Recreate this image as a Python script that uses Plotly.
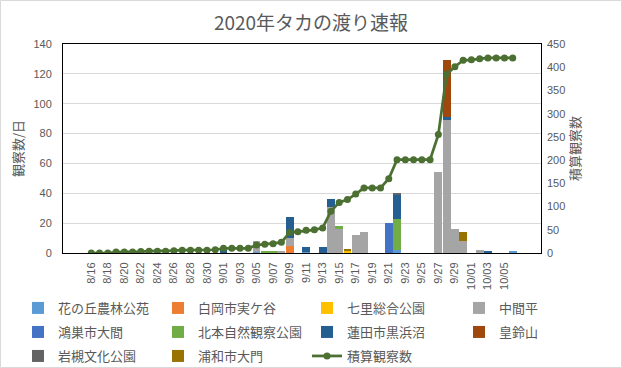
import plotly.graph_objects as go

dates = ["8/16","8/17","8/18","8/19","8/20","8/21","8/22","8/23","8/24","8/25","8/26","8/27","8/28","8/29","8/30","8/31",
         "9/01","9/02","9/03","9/04","9/05","9/06","9/07","9/08","9/09","9/10","9/11","9/12","9/13","9/14","9/15",
         "9/16","9/17","9/18","9/19","9/20","9/21","9/22","9/23","9/24","9/25","9/26","9/27","9/28","9/29","9/30",
         "10/01","10/02","10/03","10/04","10/05","10/06"]

def series(vals):
    out = [0] * len(dates)
    for d, v in vals.items():
        out[dates.index(d)] = v
    return out

hananooka = series({"9/05": 1, "9/11": 1, "9/22": 2, "10/06": 1})
shiraoka = series({"9/09": 5})
shichiri = series({"9/16": 2})
nakamadaira = series({"9/05": 7, "9/08": 1, "9/09": 5, "9/14": 31, "9/15": 16, "9/17": 12, "9/18": 14,
                      "9/27": 54, "9/28": 89, "9/29": 16, "9/30": 8, "10/02": 2})
konosu = series({"9/21": 20})
kitamoto = series({"9/06": 1, "9/07": 1, "9/15": 2, "9/22": 21})
hasuda = series({"9/01": 3, "9/09": 14, "9/11": 3, "9/13": 4, "9/14": 5, "9/22": 16, "9/28": 2, "10/03": 1})
minasuzu = series({"9/28": 38})
iwatsuki = series({"9/22": 1})
urawa = series({"9/16": 1, "9/30": 6})

cumulative = [0,0,0,2,2,2,3,4,4,4,5,6,6,6,6,7,
              10,10,10,10,17,19,20,23,44,46,49,50,54,90,109,115,127,140,140,140,160,201,201,201,201,201,255,385,401,415,
              416,418,420,420,420,420]

bar_series = [
    ("花の丘農林公苑", hananooka, "#5B9BD5"),
    ("白岡市実ケ谷", shiraoka, "#ED7D31"),
    ("七里総合公園", shichiri, "#FFC000"),
    ("中間平", nakamadaira, "#A5A5A5"),
    ("鴻巣市大間", konosu, "#4472C4"),
    ("北本自然観察公園", kitamoto, "#70AD47"),
    ("蓮田市黒浜沼", hasuda, "#255E91"),
    ("皇鈴山", minasuzu, "#9E480E"),
    ("岩槻文化公園", iwatsuki, "#636363"),
    ("浦和市大門", urawa, "#997300"),
]
line_name = "積算観察数"
line_color = "#4B7032"

W, H = 622, 368
L, R, T, B = 63, 81, 44, 115
PW, PH = W - L - R, H - T - B

def px_x(x):
    return (x - L) / PW

def px_y(y):
    return (H - B - y) / PH

FONT = "Noto Sans CJK JP, sans-serif"
NUMFONT = "Liberation Sans, sans-serif"
GRAY = "#595959"

col_x = [18, 158, 307, 459]
row_y = [308, 332, 356]

fig = go.Figure()
legends = {}
for i, (name, vals, color) in enumerate(bar_series):
    lg = "legend" if i == 0 else f"legend{i + 1}"
    fig.add_trace(go.Bar(x=dates, y=vals, name=name, marker=dict(color=color, line=dict(width=0)),
                         legend=lg))
    legends[lg] = (i % 4, i // 4)
lg = f"legend{len(bar_series) + 1}"
fig.add_trace(go.Scatter(x=dates, y=cumulative, name=line_name, yaxis="y2", mode="lines+markers",
                         line=dict(color=line_color, width=2.75), marker=dict(size=7, color=line_color),
                         legend=lg))
k = len(bar_series)
legends[lg] = (k % 4, k // 4)

legend_layout = {}
for lg, (c, r) in legends.items():
    legend_layout[lg] = dict(orientation="v", x=px_x(col_x[c]), y=px_y(row_y[r]), xanchor="left",
                             yanchor="middle",
                             font=dict(family=FONT, size=13, color=GRAY), bgcolor="rgba(0,0,0,0)")

fig.update_layout(
    template="none",
    width=W, height=H,
    margin=dict(l=L, r=R, t=T, b=B, pad=0, autoexpand=False),
    paper_bgcolor="white", plot_bgcolor="white",
    barmode="stack", bargap=0.05,
    title=dict(text="2020年タカの渡り速報", x=0.5, xanchor="center", y=1 - 23 / H, yanchor="middle",
               font=dict(family=FONT, size=19, color=GRAY)),
    xaxis=dict(type="category", tickangle=-90, dtick=2, tick0=0, showgrid=False, automargin=False,
               showline=True, linecolor="black", linewidth=1, mirror=True,
               tickfont=dict(family=NUMFONT, size=11, color=GRAY), ticks="",
               ticklabelstandoff=4),
    yaxis=dict(range=[0, 140], dtick=20, showgrid=True, gridcolor="#D9D9D9", gridwidth=1, automargin=False,
               showline=True, linecolor="black", linewidth=1, mirror=True, zeroline=False,
               tickfont=dict(family=NUMFONT, size=11, color=GRAY), ticks="",
               ticklabelstandoff=8,
               title=dict(text="観察数/日", font=dict(family=FONT, size=13, color=GRAY), standoff=6)),
    yaxis2=dict(range=[0, 450], dtick=50, overlaying="y", side="right", showgrid=False, zeroline=False,
                showline=False, automargin=False,
                tickfont=dict(family=NUMFONT, size=11, color=GRAY), ticks="",
                ticklabelstandoff=5,
                title=dict(text="積算観察数", font=dict(family=FONT, size=13, color=GRAY), standoff=3)),
    showlegend=True,
    shapes=[dict(type="rect", xref="paper", yref="paper",
                 x0=px_x(0.5), x1=px_x(W - 0.5), y0=px_y(H - 0.5), y1=px_y(0.5),
                 line=dict(color="#D9D9D9", width=1), fillcolor="rgba(0,0,0,0)", layer="below")],
    **legend_layout,
)

fig.write_html("out.html", config={"displayModeBar": False},
               post_script="document.body.style.margin='0px';")
